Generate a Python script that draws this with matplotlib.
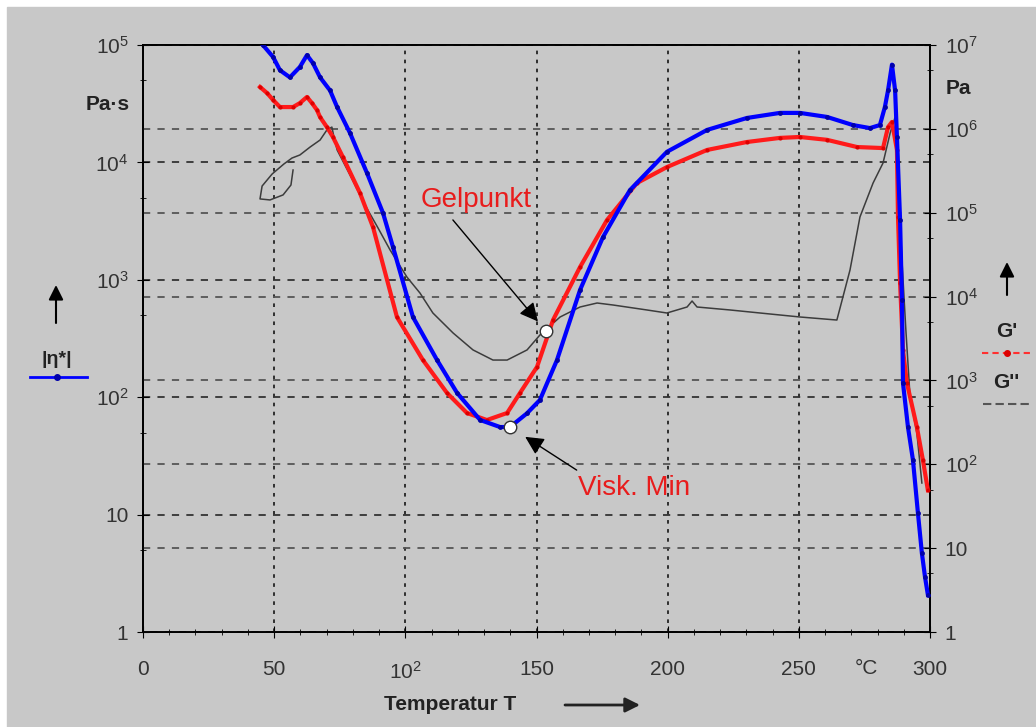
import matplotlib
matplotlib.use('Agg')
import matplotlib.pyplot as plt
from matplotlib.lines import Line2D
from matplotlib.patches import Rectangle
from matplotlib.ticker import FixedLocator, NullFormatter

plt.rcParams['font.family'] = ['Liberation Sans', 'DejaVu Sans']
plt.rcParams['mathtext.fontset'] = 'custom'
plt.rcParams['mathtext.rm'] = 'Liberation Sans'
plt.rcParams['mathtext.it'] = 'Liberation Sans:italic'
plt.rcParams['mathtext.bf'] = 'Liberation Sans:bold'

# |eta*| in Pa*s (left axis)
eta_T = [45.7, 49.6, 52.2, 56.0, 59.8, 62.5, 64.8, 67.5, 71.3, 74.0, 78.9, 85.4, 91.5, 95.3,
         102.9, 112.1, 119.7, 128.5, 136.1, 139.9, 146.4, 151.3, 157.8, 166.6, 175.3, 185.6,
         199.7, 215.0, 230.2, 242.8, 250.4, 260.7, 270.6, 277.1, 280.9, 282.8, 284.0, 285.5,
         286.7, 287.4, 288.6, 289.3, 289.7, 291.6, 293.5, 295.4, 296.9, 298.1, 299.2]
eta = [1.0e5, 7.9e4, 6.1e4, 5.3e4, 6.5e4, 8.2e4, 7.0e4, 5.3e4, 4.1e4, 2.96e4, 1.78e4, 8.1e3,
       3.7e3, 1.9e3, 482, 207, 109, 64, 55.7, 55.7, 73, 94.7, 207, 819, 2300, 5800,
       1.23e4, 1.89e4, 2.39e4, 2.64e4, 2.64e4, 2.44e4, 2.08e4, 1.96e4, 2.08e4, 2.96e4, 4.1e4,
       6.8e4, 4.1e4, 1.65e4, 3200, 673, 132, 55.7, 29.2, 10.3, 4.71, 2.94, 2.07]

# G' in Pa (right axis)
g1_T = [44.6, 47.3, 49.6, 52.2, 57.2, 59.8, 62.5, 64.4, 66.3, 67.5, 70.1, 72.4, 76.2, 82.7,
        87.7, 96.8, 106.7, 115.9, 123.5, 131.1, 138.8, 143.7, 150.2, 156.3, 166.6, 176.9,
        188.3, 199.7, 215.0, 230.2, 242.8, 250.4, 260.7, 272.2, 282.1, 284.0, 285.5, 287.4,
        287.8, 288.6, 289.7, 291.2, 295.0, 297.3, 299.2]
g1 = [3.16e6, 2.67e6, 2.21e6, 1.82e6, 1.82e6, 2.03e6, 2.4e6, 2.03e6, 1.68e6, 1.38e6, 1.05e6,
      8.0e5, 4.6e5, 1.72e5, 6.7e4, 5.7e3, 1.75e3, 708, 409, 337, 409, 708, 1450, 5250,
      2.25e4, 8.2e4, 2.26e5, 3.5e5, 5.6e5, 6.97e5, 7.8e5, 8.0e5, 7.4e5, 6.07e5, 5.9e5,
      1.05e6, 1.21e6, 5.6e5, 8.9e4, 1.45e4, 2300, 931, 278, 112, 49]

# G'' in Pa (right axis)
g2_T = [57.2, 56.4, 53.4, 48.4, 44.6, 45.4, 49.2, 53.7, 56.8, 59.8, 63.7, 67.5, 70.1, 72.0,
        72.8, 74.0, 78.9, 84.6, 89.6, 94.2, 100.6, 105.6, 110.5, 118.2, 125.8, 133.4, 138.8,
        146.4, 151.3, 159.0, 166.6, 173.1, 179.2, 192.1, 199.7, 207.4, 209.3, 211.2, 223.8,
        235.2, 250.4, 264.5, 269.5, 273.3, 278.3, 282.1, 284.8, 286.7, 287.4, 288.2, 289.3,
        290.8, 292.4, 295.0, 296.9]
g2 = [3.23e5, 2.14e5, 1.63e5, 1.42e5, 1.46e5, 2.08e5, 2.89e5, 3.81e5, 4.49e5, 4.88e5, 6.07e5,
      7.36e5, 9.7e5, 1.05e6, 8.0e5, 5.6e5, 2.82e5, 1.24e5, 6.57e4, 3.59e4, 1.71e4, 1.10e4,
      6.37e3, 3.68e3, 2.31e3, 1.75e3, 1.75e3, 2.31e3, 3.48e3, 5.71e3, 7.51e3, 8.38e3, 7.93e3,
      6.92e3, 6.37e3, 7.51e3, 8.85e3, 7.51e3, 6.92e3, 6.37e3, 5.71e3, 5.25e3, 2.07e4, 8.9e4,
      2.26e5, 3.92e5, 8.9e5, 1.38e6, 6.78e5, 1.42e5, 2.73e4, 3.99e3, 634, 236, 59.8]

gel_T, gel_G = 153.6, 3.88e3
vmin_T, vmin_eta = 139.9, 55.7

x_ticks = [0, 50, 100, 150, 200, 250, 300]
x_labels = ['0', '50', r'$\mathregular{10^{2}}$', '150', '200', '250', '300']
left_ticks = [1, 10, 100, 1e3, 1e4, 1e5]
left_labels = ['1', '10'] + [r'$\mathregular{10^{%d}}$' % i for i in range(2, 6)]
right_ticks = [1, 10, 100, 1e3, 1e4, 1e5, 1e6, 1e7]
right_labels = ['1', '10'] + [r'$\mathregular{10^{%d}}$' % i for i in range(2, 8)]

W, H = 1036, 727
def fx(px):
    return px / W
def fy(py):
    return 1 - py / H

bg = '#c8c8c8'
txt = '#333333'

fig = plt.figure(figsize=(W / 100, H / 100), dpi=100, facecolor='white')
fig.patches.append(Rectangle((fx(7), 0), 1, fy(7), transform=fig.transFigure,
                             color=bg, zorder=-10))

ax = fig.add_axes([fx(143), fy(632), fx(930) - fx(143), fy(45) - fy(632)])
ax.set_facecolor('none')
ax.set_xlim(0, 300)
ax.set_yscale('log')
ax.set_ylim(1, 1e5)
ax2 = ax.twinx()
ax2.set_facecolor('none')
ax2.set_yscale('log')
ax2.set_ylim(1, 1e7)

for a in (ax, ax2):
    for s in a.spines.values():
        s.set_color('black')
        s.set_linewidth(1.3)

ax.set_xticks(x_ticks)
ax.set_xticklabels(x_labels)
ax.xaxis.set_minor_locator(FixedLocator(range(0, 301, 10)))
ax.set_yticks(left_ticks)
ax.set_yticklabels(left_labels)
ax.yaxis.set_minor_locator(FixedLocator([5, 50, 500, 5e3, 5e4]))
ax.yaxis.set_minor_formatter(NullFormatter())
ax2.set_yticks(right_ticks)
ax2.set_yticklabels(right_labels)
ax2.yaxis.set_minor_locator(FixedLocator([5, 50, 500, 5e3, 5e4, 5e5, 5e6]))
ax2.yaxis.set_minor_formatter(NullFormatter())

ax.tick_params(axis='x', which='major', direction='inout', length=9, pad=16,
               labelsize=15, labelcolor=txt)
ax.tick_params(axis='x', which='minor', direction='inout', length=5)
ax.tick_params(axis='y', which='major', direction='inout', length=9, pad=6,
               labelsize=15, labelcolor=txt)
ax.tick_params(axis='y', which='minor', direction='inout', length=5)
ax2.tick_params(axis='y', which='major', direction='inout', length=9, pad=6,
                labelsize=15, labelcolor=txt)
ax2.tick_params(axis='y', which='minor', direction='inout', length=5)

ax.xaxis.grid(True, which='major', color='#222222', ls=(0, (2, 3)), lw=1.3)
ax.yaxis.grid(True, which='major', color='#333333', ls=(0, (4, 4)), lw=1.3)
ax2.yaxis.grid(True, which='major', color='#555555', ls=(0, (4, 4)), lw=1.3)

# curves (blue drawn in ax2 with ax's transform so all grids stay underneath)
ax2.plot(g2_T, g2, color='#3c3c3c', lw=1.1, zorder=3)
ax2.plot(g1_T, g1, color='#ff1a1a', lw=3, marker='o', ms=3, mfc='#dd0000', mec='none',
         zorder=4)
ax2.plot(eta_T, eta, color='#0000ff', lw=3, marker='o', ms=3.5, mfc='#0000aa', mec='none',
         transform=ax.transData, zorder=5)

ax2.plot([gel_T], [gel_G], 'o', ms=9, mfc='white', mec='#333333', mew=1, zorder=6)
ax2.plot([vmin_T], [vmin_eta], 'o', ms=9, mfc='white', mec='#333333', mew=1,
         transform=ax.transData, zorder=6)

arrow = dict(arrowstyle='-|>', color='black', lw=1, mutation_scale=28,
             shrinkA=0, shrinkB=9)
ax2.annotate('', xy=(gel_T, gel_G), xytext=(-67, 80), textcoords='offset points',
             arrowprops=arrow, zorder=7)
ax2.annotate('Gelpunkt', xy=(gel_T, gel_G), xytext=(-50, 94), textcoords='offset points',
             ha='center', va='center', fontsize=20, color='#e81c1c', zorder=7)
arrow2 = dict(arrow, shrinkB=13)
ax2.annotate('', xy=(vmin_T, vmin_eta), xycoords=ax.transData, xytext=(48, -31),
             textcoords='offset points', arrowprops=arrow2, zorder=7)
ax2.annotate('Visk. Min', xy=(vmin_T, vmin_eta), xycoords=ax.transData, xytext=(49, -44),
             textcoords='offset points', ha='left', va='center', fontsize=20,
             color='#e81c1c', zorder=7)

# axis captions and legends
fig.text(fx(108), fy(105), 'Pa·s', fontsize=15, fontweight='bold', color='#222222',
         ha='center', va='center')
fig.text(fx(958), fy(88), 'Pa', fontsize=15, fontweight='bold', color='#222222',
         ha='center', va='center')
fig.text(fx(866), fy(668), '°C', fontsize=15, color=txt, ha='center', va='center')
fig.text(fx(450), fy(705), 'Temperatur T', fontsize=15, fontweight='bold',
         color='#222222', ha='center', va='center')

up = dict(arrowstyle='-|>', color='black', lw=1.5, mutation_scale=22, shrinkA=0, shrinkB=0)
fig.add_artist(plt.Annotation('', xy=(fx(56), fy(285)), xytext=(fx(56), fy(323)),
                              xycoords='figure fraction', arrowprops=up))
fig.add_artist(plt.Annotation('', xy=(fx(1007), fy(262)), xytext=(fx(1007), fy(295)),
                              xycoords='figure fraction', arrowprops=up))
right = dict(arrowstyle='-|>', color='#222222', lw=2, mutation_scale=22, shrinkA=0,
             shrinkB=0)
fig.add_artist(plt.Annotation('', xy=(fx(640), fy(705)), xytext=(fx(565), fy(705)),
                              xycoords='figure fraction', arrowprops=right))

fig.text(fx(57), fy(360), '|η*|', fontsize=14, fontweight='bold', color='#222222',
         ha='center', va='center')
fig.add_artist(Line2D([fx(30), fx(87)], [fy(377), fy(377)], color='#0000ff', lw=2,
                      transform=fig.transFigure))
fig.add_artist(Line2D([fx(57)], [fy(377)], marker='o', ms=4, color='#0000aa',
                      transform=fig.transFigure))

fig.text(fx(1007), fy(332), "G'", fontsize=15, fontweight='bold', color='#222222',
         ha='center', va='center')
fig.add_artist(Line2D([fx(982), fx(1034)], [fy(353), fy(353)], color='#ff3030', lw=1.5,
                      ls=(0, (3, 2)), transform=fig.transFigure))
fig.add_artist(Line2D([fx(1007)], [fy(353)], marker='o', ms=4, color='#dd0000',
                      transform=fig.transFigure))
fig.text(fx(1006), fy(383), "G''", fontsize=15, fontweight='bold', color='#222222',
         ha='center', va='center')
fig.add_artist(Line2D([fx(983), fx(1033)], [fy(404), fy(404)], color='#555555', lw=1.5,
                      ls=(0, (4, 2)), transform=fig.transFigure))

plt.savefig('out.png', dpi=100, facecolor=fig.get_facecolor())
